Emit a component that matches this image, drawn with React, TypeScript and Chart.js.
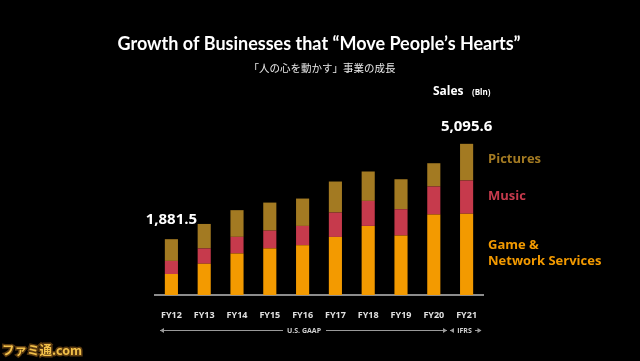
import React, { useEffect, useRef } from "react";
import { Chart, registerables } from "chart.js";

Chart.register(...registerables);

const categories = ["FY12", "FY13", "FY14", "FY15", "FY16", "FY17", "FY18", "FY19", "FY20", "FY21"];
const gameValues = [707, 1055, 1400, 1570, 1678, 1958, 2329, 2005, 2713, 2740];
const musicValues = [442, 515, 560, 600, 650, 822, 843, 886, 944, 1120];
const picturesValues = [732.5, 825, 900, 945, 923, 1045, 991, 1011, 785, 1235.6];
const totalLabels = ["1,881.5", "", "", "", "", "", "", "", "", "5,095.6"];
const seriesNames = ["Game &\nNetwork Services", "Music", "Pictures"];
const seriesColors = ["#f39a00", "#c63a4c", "#a37a22"];

const FONT = "'Open Sans', 'Noto Sans', sans-serif";
const TITLE_FONT = "Lato, 'Open Sans', sans-serif";
const CJK = "'Noto Sans CJK JP', sans-serif";

const overlayPlugin = {
  id: "overlay",
  afterDraw(chart: any) {
    const ctx = chart.ctx as CanvasRenderingContext2D;
    ctx.save();
    // Title
    ctx.fillStyle = "#ffffff";
    ctx.textAlign = "center";
    ctx.textBaseline = "middle";
    ctx.font = `bold 18px ${TITLE_FONT}`;
    ctx.fillText("Growth of Businesses that \u201cMove People\u2019s Hearts\u201d", 319, 44);
    ctx.font = `10.5px ${CJK}`;
    ctx.fillStyle = "#e8e8e8";
    ctx.fillText("「人の心を動かす」事業の成長", 322, 68);

    // Total labels above bars
    const topMeta = chart.getDatasetMeta(2);
    ctx.font = `bold 15px ${FONT}`;
    ctx.fillStyle = "#ffffff";
    totalLabels.forEach((lbl, i) => {
      if (!lbl) return;
      const el = topMeta.data[i];
      const offset = i === 0 ? 19 : 17;
      ctx.fillText(lbl, el.x, el.y - offset);
    });

    // Sales (Bln)
    ctx.textAlign = "left";
    ctx.font = `bold 12px ${FONT}`;
    ctx.fillText("Sales", 433, 92);
    ctx.font = `bold 8px ${FONT}`;
    ctx.fillText("(Bln)", 472, 93);

    // Legend labels
    const legendX = 488;
    ctx.font = `bold 13px ${FONT}`;
    ctx.fillStyle = seriesColors[2];
    ctx.fillText(seriesNames[2], legendX, 159);
    ctx.fillStyle = seriesColors[1];
    ctx.fillText(seriesNames[1], legendX, 196);
    ctx.fillStyle = seriesColors[0];
    const gLines = seriesNames[0].split("\n");
    ctx.fillText(gLines[0], legendX, 245);
    ctx.fillText(gLines[1], legendX, 261.5);

    // Accounting standard arrows
    const y = 330.5;
    ctx.strokeStyle = "#9a9a9a";
    ctx.fillStyle = "#9a9a9a";
    ctx.lineWidth = 1;
    const arrowHead = (x: number, dir: number) => {
      ctx.beginPath();
      ctx.moveTo(x, y);
      ctx.lineTo(x - dir * 4, y - 2.5);
      ctx.lineTo(x - dir * 4, y + 2.5);
      ctx.closePath();
      ctx.fill();
    };
    const line = (x1: number, x2: number) => {
      ctx.beginPath();
      ctx.moveTo(x1, y);
      ctx.lineTo(x2, y);
      ctx.stroke();
    };
    line(160, 283);
    line(326, 447);
    arrowHead(160, -1);
    arrowHead(447, 1);
    arrowHead(450, -1);
    line(450, 454);
    line(475, 481);
    arrowHead(481.5, 1);
    ctx.font = `bold 7px ${FONT}`;
    ctx.fillStyle = "#cfcfcf";
    ctx.textAlign = "center";
    ctx.fillText("U.S. GAAP", 304, y + 0.5);
    ctx.fillText("IFRS", 464.5, y + 0.5);

    // Watermark
    ctx.textAlign = "left";
    ctx.font = `bold 12.5px ${CJK}`;
    ctx.lineWidth = 3;
    ctx.strokeStyle = "#5a3a10";
    ctx.strokeText("ファミ通.com", 2, 350);
    ctx.fillStyle = "#f2c14a";
    ctx.fillText("ファミ通.com", 2, 350);
    ctx.restore();
  },
};

export default function App() {
  const ref = useRef<HTMLCanvasElement>(null);
  useEffect(() => {
    if (!ref.current) return;
    const chart = new Chart(ref.current, {
      type: "bar",
      data: {
        labels: categories,
        datasets: [
          { label: seriesNames[0], data: gameValues, backgroundColor: seriesColors[0] },
          { label: seriesNames[1], data: musicValues, backgroundColor: seriesColors[1] },
          { label: seriesNames[2], data: picturesValues, backgroundColor: seriesColors[2] },
        ],
      },
      options: {
        responsive: false,
        animation: false,
        events: [],
        layout: { padding: { left: 155, right: 157, top: 117, bottom: 0 } },
        datasets: { bar: { barPercentage: 0.4, categoryPercentage: 1 } },
        plugins: { legend: { display: false }, tooltip: { enabled: false }, title: { display: false } },
        scales: {
          x: {
            stacked: true,
            grid: { display: false },
            border: { display: true, color: "#8c8c8c", width: 2 },
            ticks: { color: "#e0e0e0", font: { family: FONT, size: 9, weight: "bold" }, padding: 7, maxRotation: 0 },
            afterFit: (scale: any) => {
              scale.height = 66;
            },
          },
          y: { stacked: true, display: false, min: 0, max: 6000 },
        },
      },
      plugins: [overlayPlugin],
    } as any);
    return () => chart.destroy();
  }, []);
  return (
    <div style={{ position: "fixed", left: 0, top: 0, width: 640, height: 361, background: "#000" }}>
      <canvas ref={ref} width={640} height={361} />
    </div>
  );
}
